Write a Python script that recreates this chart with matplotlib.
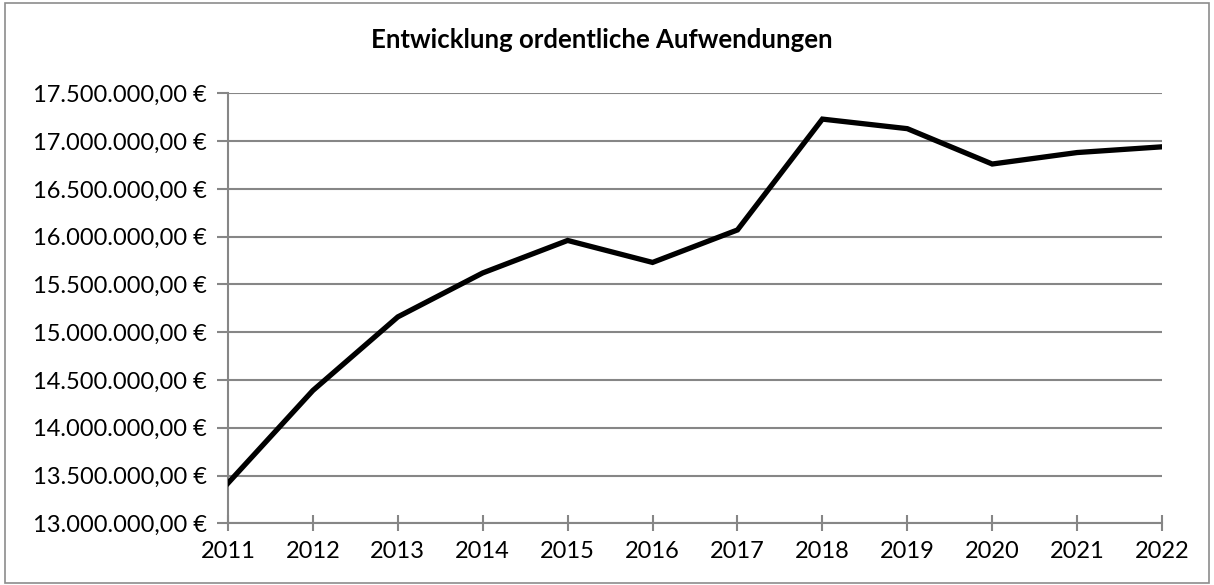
import matplotlib.pyplot as plt
from matplotlib.ticker import FuncFormatter, MultipleLocator
from matplotlib.patches import Rectangle

jahre = ["2011", "2012", "2013", "2014", "2015", "2016",
         "2017", "2018", "2019", "2020", "2021", "2022"]
aufwendungen = [13420000, 14390000, 15160000, 15620000, 15960000, 15730000,
                16070000, 17230000, 17130000, 16760000, 16880000, 16940000]


def euro(v, pos):
    s = "{:,.2f}".format(v)
    s = s.replace(",", "X").replace(".", ",").replace("X", ".")
    return s + " €"


plt.rcParams['font.family'] = ['Lato', 'DejaVu Sans']

fig = plt.figure(figsize=(12.14, 5.85), dpi=100)
ax = fig.add_axes([0.1878, 0.1055, 0.9572 - 0.1878, 0.8405 - 0.1055])

# Rahmen um das ganze Diagramm
fig.patches.append(Rectangle((0.004, 0.004), 0.992, 0.991, transform=fig.transFigure,
                             fill=False, edgecolor="#8c8c8c", linewidth=1.2))

grau = "#868686"
x = range(len(jahre))
ax.plot(x, aufwendungen, color="black", linewidth=3.8, solid_joinstyle="miter", zorder=3)

ax.set_xlim(0, len(jahre) - 1)
ax.set_ylim(13000000, 17500000)
ax.yaxis.set_major_locator(MultipleLocator(500000))
ax.yaxis.set_major_formatter(FuncFormatter(euro))
ax.set_xticks(list(x))
ax.set_xticklabels(jahre)

ax.grid(axis="y", color=grau, linewidth=1.5)
ax.set_axisbelow(True)
for s in ["top", "right"]:
    ax.spines[s].set_visible(False)
for s in ["left", "bottom"]:
    ax.spines[s].set_color(grau)
    ax.spines[s].set_linewidth(1.5)

ax.tick_params(axis="x", direction="inout", length=12, width=1.5, color=grau,
               labelsize=17, pad=7)
ax.tick_params(axis="y", direction="out", length=8, width=1.5, color=grau,
               labelsize=17, pad=7)

fig.text(0.496, 0.932, "Entwicklung ordentliche Aufwendungen", ha="center", va="center",
         fontsize=18.5, fontweight="bold")

fig.savefig("out.png", dpi=100)
